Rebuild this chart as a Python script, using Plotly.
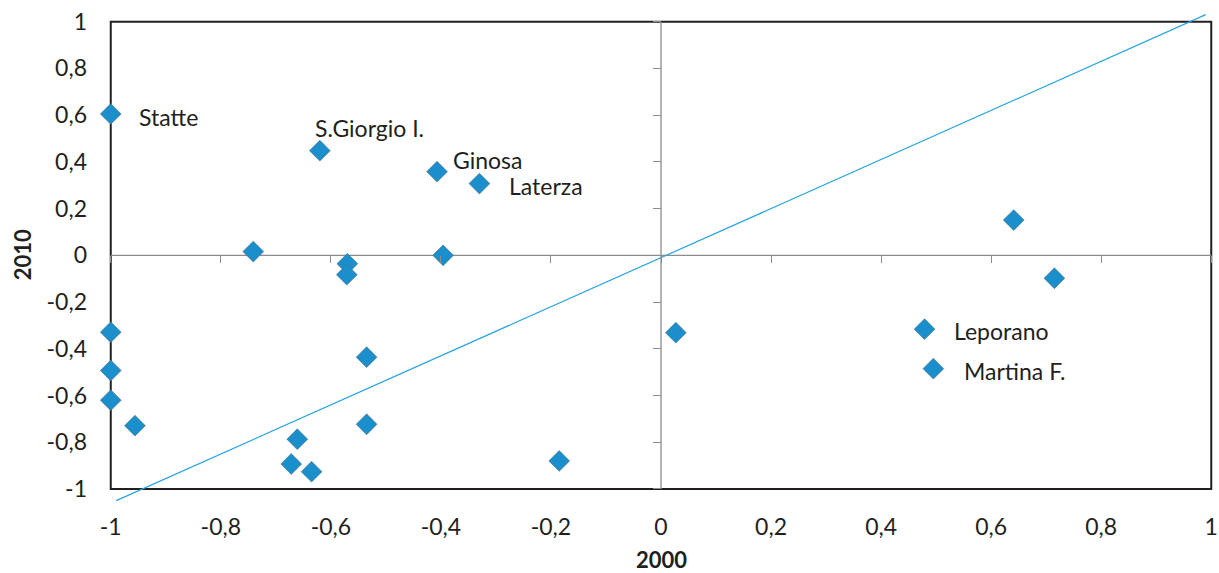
import plotly.graph_objects as go

# index values per municipality: 2000 (x) vs 2010 (y)
x_2000 = [-1.0, -0.62, -0.741, -0.570, -0.571, -0.407, -0.330, -0.396,
          -1.0, -1.0, -1.0, -0.956, -0.661, -0.672, -0.635, -0.535, -0.535,
          -0.185, 0.027, 0.641, 0.715, 0.479, 0.495]
y_2010 = [0.605, 0.448, 0.016, -0.036, -0.083, 0.358, 0.307, 0.0,
          -0.329, -0.493, -0.620, -0.729, -0.787, -0.893, -0.926, -0.436, -0.723,
          -0.880, -0.331, 0.151, -0.098, -0.316, -0.485]
names = ["Statte", "S.Giorgio I.", "", "", "", "Ginosa", "Laterza", "",
         "", "", "", "", "", "", "", "", "",
         "", "", "", "", "Leporano", "Martina F."]

# trend line end points
trend_x = [-0.99, 0.99]
trend_y = [-1.05, 1.03]

tick_vals = [-1, -0.8, -0.6, -0.4, -0.2, 0, 0.2, 0.4, 0.6, 0.8, 1]
tick_text = ["-1", "-0,8", "-0,6", "-0,4", "-0,2", "0", "0,2", "0,4", "0,6", "0,8", "1"]

x_title = "2000"
y_title = "2010"

# label offsets in px (dx, dy)
label_shift = {
    "Statte": (26, -3),
    "S.Giorgio I.": (-7, 23),
    "Ginosa": (14, 12),
    "Laterza": (28, -2),
    "Leporano": (27, -2),
    "Martina F.": (29, -2),
}

FONT = "Lato, 'Open Sans', sans-serif"
DARK = "#231f20"
GREY = "#8c8c8c"
BLUE = "#1b8fcb"

# pixel scale of the plot box (-1..1 both ways)
sx, sy = 550, 233.5
x_range = [-1.005, 1.005]
y_range = [-1.06, 1.05]
left = 111 + (x_range[0] + 1) * sx
right = 1219 - (111 + (x_range[1] + 1) * sx)
top = 22 - (y_range[1] - 1) * sy
bottom = 573 - (22 + (1 - y_range[0]) * sy)

fig = go.Figure()

fig.add_trace(go.Scatter(
    x=trend_x, y=trend_y, mode="lines", xaxis="x2", yaxis="y2",
    line=dict(color="#29a3df", width=1.2), hoverinfo="skip",
))

fig.add_trace(go.Scatter(
    x=x_2000, y=y_2010, mode="markers",
    marker=dict(symbol="diamond", size=16, color=BLUE,
                line=dict(color="#4d6f85", width=0.6)),
    cliponaxis=False,
))

for name, xv, yv in zip(names, x_2000, y_2010):
    if not name:
        continue
    dx, dy = label_shift[name]
    fig.add_annotation(x=xv, y=yv, text=name, showarrow=False,
                       xanchor="left", yanchor="middle", xshift=dx, yshift=dy,
                       font=dict(family=FONT, size=23, color=DARK))

# axis titles
fig.add_annotation(x=0, y=0, xref="x", yref="paper", text="<b>" + x_title + "</b>",
                   showarrow=False, yanchor="middle", yshift=-56,
                   font=dict(family=FONT, size=22, color=DARK))
fig.add_annotation(x=0, y=0, xref="paper", yref="y", text="<b>" + y_title + "</b>",
                   showarrow=False, xanchor="center", xshift=-86, textangle=-90,
                   font=dict(family=FONT, size=22, color=DARK))

# frame and centre cross
fig.add_shape(type="rect", x0=-1, x1=1, y0=-1, y1=1, layer="below",
              line=dict(color=DARK, width=2))
fig.add_shape(type="line", x0=-1, x1=1, y0=0, y1=0, layer="below",
              line=dict(color=GREY, width=1.3))
fig.add_shape(type="line", x0=0, x1=0, y0=-1, y1=1, layer="below",
              line=dict(color=GREY, width=1.3))

fig.update_layout(
    width=1219, height=573,
    margin=dict(l=left, r=right, t=top, b=bottom, pad=0, autoexpand=False),
    paper_bgcolor="white", plot_bgcolor="white",
    showlegend=False,
    font=dict(family=FONT, size=23, color=DARK),
    xaxis=dict(range=x_range, tickvals=tick_vals, ticktext=tick_text,
               showgrid=False, zeroline=False, showline=False, ticks="",
               automargin=False, ticklabelstandoff=8),
    yaxis=dict(range=y_range, tickvals=tick_vals, ticktext=tick_text,
               showgrid=False, zeroline=False, showline=False, ticks="",
               automargin=False, ticklabelstandoff=20),
    xaxis2=dict(range=x_range, overlaying="x", anchor="free",
                position=(0 - y_range[0]) / (y_range[1] - y_range[0]),
                tickvals=tick_vals, showticklabels=False, ticks="outside",
                ticklen=7, tickwidth=1, tickcolor=GREY, automargin=False,
                showgrid=False, zeroline=False, showline=False),
    yaxis2=dict(range=y_range, overlaying="y", anchor="free",
                position=(0 - x_range[0]) / (x_range[1] - x_range[0]),
                tickvals=tick_vals, showticklabels=False, ticks="outside",
                ticklen=8, tickwidth=1, tickcolor=GREY, automargin=False,
                showgrid=False, zeroline=False, showline=False),
)

# drop the page's default body margin so the figure sits at the window origin
fig.write_html("out.html", config={"displayModeBar": False},
               post_script="document.body.style.margin='0';")
